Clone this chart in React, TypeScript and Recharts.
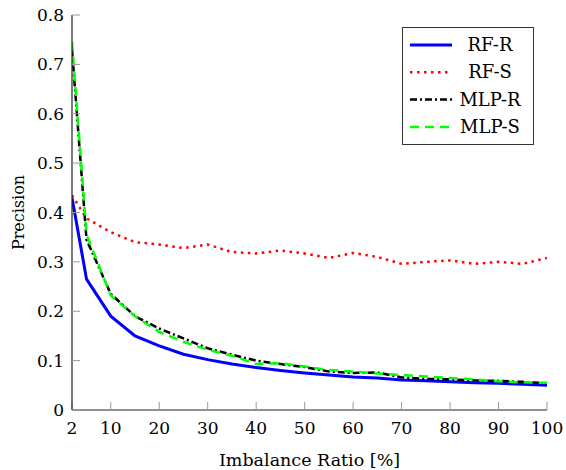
import { Legend, Line, LineChart, XAxis, YAxis } from "recharts";

const FONT = "'DejaVu Serif', serif";

const ratios = [2, 5, 10, 15, 20, 25, 30, 35, 40, 45, 50, 55, 60, 65, 70, 75, 80, 85, 90, 95, 100];

const rfR = [
  0.43, 0.265, 0.19, 0.15, 0.13, 0.113, 0.102, 0.093, 0.086, 0.08, 0.075, 0.071, 0.067, 0.065,
  0.061, 0.059, 0.057, 0.055, 0.054, 0.052, 0.05,
];
const rfS = [
  0.435, 0.388, 0.36, 0.34, 0.335, 0.328, 0.335, 0.32, 0.317, 0.323, 0.317, 0.308, 0.318, 0.31,
  0.296, 0.3, 0.303, 0.296, 0.3, 0.296, 0.308,
];
const mlpR = [
  0.73, 0.345, 0.235, 0.19, 0.165, 0.145, 0.125, 0.112, 0.1, 0.093, 0.087, 0.078, 0.075, 0.076,
  0.066, 0.063, 0.062, 0.06, 0.059, 0.057, 0.054,
];
const mlpS = [
  0.745, 0.355, 0.232, 0.19, 0.158, 0.138, 0.122, 0.11, 0.093, 0.095, 0.088, 0.081, 0.078, 0.074,
  0.071, 0.068, 0.065, 0.062, 0.058, 0.056, 0.055,
];

const xTicks = [2, 10, 20, 30, 40, 50, 60, 70, 80, 90, 100];
const yTicks = [0, 0.1, 0.2, 0.3, 0.4, 0.5, 0.6, 0.7, 0.8];

const series = [
  { key: "rfR", name: "RF-R", color: "#0000ff", width: 3, dash: undefined },
  { key: "rfS", name: "RF-S", color: "#ff0000", width: 2.5, dash: "2.5 4.5" },
  { key: "mlpR", name: "MLP-R", color: "#000000", width: 2.5, dash: "7 3 2 3" },
  { key: "mlpS", name: "MLP-S", color: "#00ff00", width: 2.5, dash: "9 6" },
];

const data = ratios.map((r, i) => ({
  ratio: r,
  rfR: rfR[i],
  rfS: rfS[i],
  mlpR: mlpR[i],
  mlpS: mlpS[i],
}));

const tickStyle = { fontSize: 17, fill: "#000", fontFamily: FONT };
const tickLine = { stroke: "#999", strokeWidth: 1 };
const frame = { stroke: "#222", strokeWidth: 1.2 };

function LegendBox() {
  const rowH = 27.3;
  return (
    <svg width={132} height={118} style={{ display: "block" }}>
      <rect x={0.5} y={0.5} width={131} height={117} fill="#fff" stroke="#333" strokeWidth={1} />
      {series.map((s, i) => {
        const cy = 18 + i * rowH;
        return (
          <g key={s.key}>
            <line
              x1={8}
              x2={50}
              y1={cy}
              y2={cy}
              stroke={s.color}
              strokeWidth={s.width}
              strokeDasharray={s.dash}
            />
            <text
              x={88}
              y={cy + 6}
              textAnchor="middle"
              fontSize={18}
              fontFamily={FONT}
              fill="#000"
            >
              {s.name}
            </text>
          </g>
        );
      })}
    </svg>
  );
}

export default function App() {
  return (
    <div style={{ position: "absolute", left: 0, top: 0, background: "#fff", fontFamily: FONT }}>
      <LineChart width={566} height={470} data={data} margin={{ top: 15, right: 19, left: 0, bottom: 0 }}>
        <XAxis
          dataKey="ratio"
          type="number"
          domain={[2, 100]}
          ticks={xTicks}
          allowDataOverflow
          height={60}
          axisLine={frame}
          tickLine={tickLine}
          tickSize={-8}
          tickMargin={20}
          tick={tickStyle}
          label={{
            content: (props: any) => {
              const vb = props.viewBox;
              return (
                <text
                  x={vb.x + vb.width / 2}
                  y={vb.y + 56}
                  textAnchor="middle"
                  fontSize={17.5}
                  fontFamily={FONT}
                  fill="#000"
                >
                  Imbalance Ratio [%]
                </text>
              );
            },
          }}
        />
        <XAxis
          xAxisId="top"
          orientation="top"
          type="number"
          domain={[2, 100]}
          ticks={xTicks}
          allowDataOverflow
          height={0}
          mirror
          axisLine={frame}
          tickLine={tickLine}
          tickSize={8}
          tick={false}
        />
        <YAxis
          type="number"
          domain={[0, 0.8]}
          ticks={yTicks}
          allowDataOverflow
          width={72}
          axisLine={frame}
          tickLine={tickLine}
          tickSize={-8}
          tickMargin={16}
          tick={tickStyle}
          tickFormatter={(v: number) => (v === 0 ? "0" : v.toFixed(1))}
          label={{
            content: (props: any) => {
              const vb = props.viewBox;
              const cy = vb.y + vb.height / 2;
              return (
                <text
                  x={24}
                  y={cy}
                  transform={`rotate(-90, 24, ${cy})`}
                  textAnchor="middle"
                  fontSize={16}
                  fontFamily={FONT}
                  fill="#000"
                >
                  Precision
                </text>
              );
            },
          }}
        />
        <YAxis
          yAxisId="right"
          orientation="right"
          type="number"
          domain={[0, 0.8]}
          ticks={yTicks}
          allowDataOverflow
          width={0}
          mirror
          axisLine={frame}
          tickLine={tickLine}
          tickSize={8}
          tick={false}
        />
        {series.map((s) => (
          <Line
            key={s.key}
            dataKey={s.key}
            name={s.name}
            type="linear"
            stroke={s.color}
            strokeWidth={s.width}
            strokeDasharray={s.dash}
            dot={false}
            activeDot={false}
            isAnimationActive={false}
          />
        ))}
        <Legend
          layout="horizontal"
          align="center"
          verticalAlign="middle"
          content={() => <LegendBox />}
          wrapperStyle={{ left: 402, top: 27, width: 132, height: 118 }}
        />
      </LineChart>
    </div>
  );
}
